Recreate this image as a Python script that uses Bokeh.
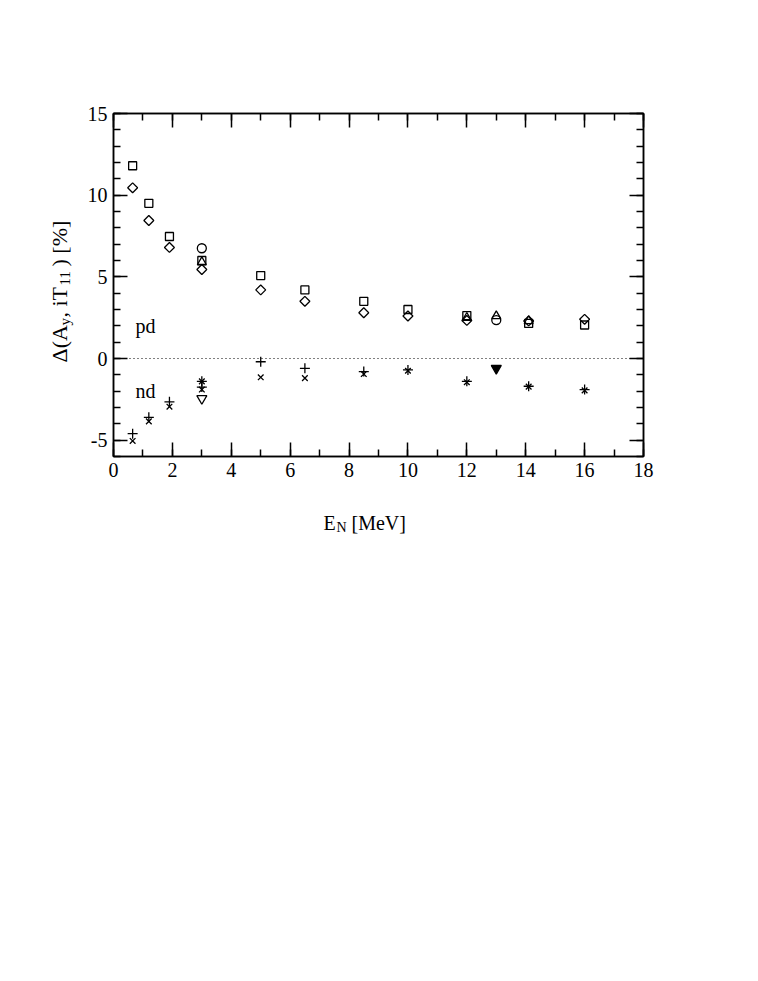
import numpy as np
from bokeh.plotting import figure
from bokeh.layouts import row, column
from bokeh.models import Range1d, LinearAxis, SingleIntervalTicker, Label, Span
from bokeh.embed import file_html
from bokeh.resources import INLINE

# ---- data ----
pd_energy = [0.65, 1.2, 1.9, 3.0, 5.0, 6.5, 8.5, 10.0, 12.0, 14.1, 16.0]
pd_square = [11.8, 9.5, 7.47, 6.0, 5.08, 4.2, 3.5, 3.0, 2.63, 2.15, 2.05]
pd_diamond = [10.45, 8.45, 6.8, 5.45, 4.2, 3.5, 2.8, 2.6, 2.33, 2.3, 2.4]
circle_energy = [3.0, 13.0]
pd_circle = [6.75, 2.35]
triup_energy = [3.0, 12.0, 13.0, 14.1]
pd_triup = [5.9, 2.5, 2.6, 2.3]

nd_energy = [0.65, 1.2, 1.9, 3.0, 3.0, 5.0, 6.5, 8.5, 10.0, 12.0, 14.1, 16.0]
nd_plus = [-4.6, -3.6, -2.65, -1.4, -1.75, -0.2, -0.6, -0.8, -0.7, -1.4, -1.7, -1.9]
nd_cross = [-5.05, -3.85, -2.95, -1.4, -1.9, -1.15, -1.2, -0.95, -0.75, -1.45, -1.72, -1.95]
tridown_energy = [3.0]
nd_tridown = [-2.45]
tridown_filled_energy = [13.0]
nd_tridown_filled = [-0.6]

x_ticks = list(range(0, 19, 2))
y_ticks = [-5, 0, 5, 10, 15]

FONT = "Liberation Serif"
FS = "20px"
SUB = "14px"
YFS = "22px"
YSUB = "15px"

YW = 80            # width of the y-title strip
MB_LEFT = 113 - YW
MB_TOP = 113
FW, FH = 530, 343
MB_BOTTOM = 35
MB_RIGHT = 40
MAIN_W = MB_LEFT + FW + MB_RIGHT
MAIN_H = MB_TOP + FH + MB_BOTTOM
XH = 70

p = figure(width=MAIN_W, height=MAIN_H, frame_width=FW, frame_height=FH,
           x_range=Range1d(0, 18), y_range=Range1d(-6, 15),
           output_backend="svg", toolbar_location=None,
           min_border_left=MB_LEFT, min_border_top=MB_TOP,
           min_border_right=MB_RIGHT, min_border_bottom=MB_BOTTOM)
p.xgrid.visible = False
p.ygrid.visible = False
p.outline_line_color = "black"
p.outline_line_width = 1.5

def style_axis(ax, ticker, show_labels):
    ax.ticker = ticker
    ax.axis_line_width = 1.5
    ax.major_tick_in = 14
    ax.major_tick_out = 0
    ax.minor_tick_in = 7
    ax.minor_tick_out = 0
    ax.major_tick_line_width = 1.5
    ax.minor_tick_line_width = 1.5
    ax.major_label_text_font = FONT
    ax.major_label_text_font_size = FS
    ax.major_label_text_color = "black" if show_labels else None
    ax.major_label_standoff = 6

style_axis(p.xaxis[0], SingleIntervalTicker(interval=2, num_minor_ticks=2), True)
style_axis(p.yaxis[0], SingleIntervalTicker(interval=5, num_minor_ticks=5), True)
p.yaxis[0].major_label_overrides = {v: str(v) for v in y_ticks}
p.xaxis[0].major_label_overrides = {v: str(v) for v in x_ticks}

top = LinearAxis()
style_axis(top, SingleIntervalTicker(interval=2, num_minor_ticks=2), False)
p.add_layout(top, "above")
right = LinearAxis()
style_axis(right, SingleIntervalTicker(interval=5, num_minor_ticks=5), False)
p.add_layout(right, "right")

p.add_layout(Span(location=0, dimension="width", line_color="black",
                  line_width=1, line_dash="1 3"))

kw = dict(line_color="black", line_width=1.3, fill_color=None)
p.scatter(pd_energy, pd_square, marker="square", size=8, **kw)
p.scatter(pd_energy, pd_diamond, marker="square", angle=np.pi / 4, size=7, **kw)
p.scatter(circle_energy, pd_circle, marker="circle", size=9, **kw)
p.scatter(triup_energy, pd_triup, marker="triangle", size=9, **kw)
p.scatter(nd_energy, nd_plus, marker="cross", size=10, **kw)
p.scatter(nd_energy, nd_cross, marker="x", size=8, **kw)
p.scatter(tridown_energy, nd_tridown, marker="inverted_triangle", size=10, **kw)
p.scatter(tridown_filled_energy, nd_tridown_filled, marker="inverted_triangle", size=10,
          line_color="black", fill_color="black", line_width=1.3)

def lab(fig, x, y, text, size=FS, angle=0, align="left", baseline="alphabetic"):
    fig.add_layout(Label(x=x, y=y, text=text, angle=angle,
                         text_font=FONT, text_font_size=size, text_color="black",
                         text_align=align, text_baseline=baseline))

lab(p, 0.75, 1.96, "pd")
lab(p, 0.75, -2.0, "nd")

def strip(w, h, fw, fh, **borders):
    f = figure(width=w, height=h, frame_width=fw, frame_height=fh,
               x_range=Range1d(0, fw), y_range=Range1d(0, fh),
               output_backend="svg", toolbar_location=None,
               x_axis_type=None, y_axis_type=None, **borders)
    f.xgrid.visible = False
    f.ygrid.visible = False
    f.outline_line_color = None
    return f

# y axis title strip: its frame is aligned with the main frame (y = 456 - page_y)
yfig = strip(YW, MAIN_H, YW, FH, min_border_left=0, min_border_right=0,
             min_border_top=MB_TOP, min_border_bottom=MB_BOTTOM)
bx = 59
y0 = 456 - 362
ang = np.pi / 2
lab(yfig, bx, y0, "Δ(A", size=YFS, angle=ang)
lab(yfig, bx + 5, y0 + 37, "y", size=YSUB, angle=ang)
lab(yfig, bx, y0 + 45, ", iT", size=YFS, angle=ang)
lab(yfig, bx + 5, y0 + 77, "11", size=YSUB, angle=ang)
lab(yfig, bx, y0 + 96, ") [%]", size=YFS, angle=ang)

# x axis title strip (y measured upward from its bottom)
xfig = strip(YW + MAIN_W, XH, YW + MAIN_W, XH, min_border=0)
ex = 323
eb = MAIN_H + XH - 522
lab(xfig, ex, eb, "E")
lab(xfig, ex + 13, eb - 5, "N", size=SUB)
lab(xfig, ex + 28, eb, "[MeV]")

layout = column(row(yfig, p), xfig)
open("out.html", "w").write(file_html(layout, INLINE))
